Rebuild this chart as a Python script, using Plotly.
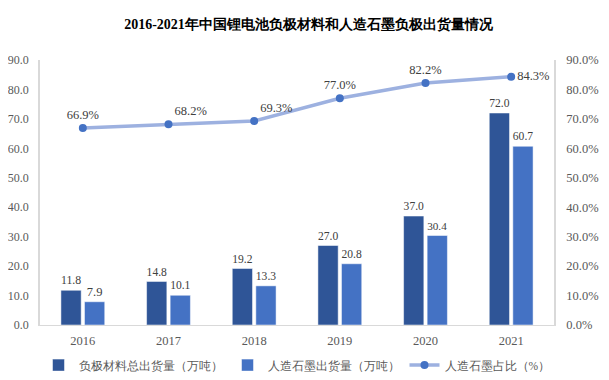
import plotly.graph_objects as go

years = ["2016", "2017", "2018", "2019", "2020", "2021"]
total_anode = [11.8, 14.8, 19.2, 27.0, 37.0, 72.0]
artificial_graphite = [7.9, 10.1, 13.3, 20.8, 30.4, 60.7]
graphite_share = [66.9, 68.2, 69.3, 77.0, 82.2, 84.3]
left_ticks = [0, 10, 20, 30, 40, 50, 60, 70, 80, 90]
right_ticks = [0, 10, 20, 30, 40, 50, 60, 70, 80, 90]

serif = "Liberation Serif"
label_color = "#595959"

fig = go.Figure()
fig.add_trace(go.Bar(
    x=years, y=total_anode, name="负极材料总出货量（万吨）",
    marker=dict(color="#2F5597", line=dict(color="white", width=0.5)),
    text=[f"{v:.1f}" for v in total_anode], textposition="outside",
    textfont=dict(family=serif, size=12.5, color="#404040"), cliponaxis=False,
))
fig.add_trace(go.Bar(
    x=years, y=artificial_graphite, name="人造石墨出货量（万吨）",
    marker=dict(color="#4472C4", line=dict(color="white", width=0.5)),
    text=[f"{v:.1f}" for v in artificial_graphite], textposition="outside",
    textfont=dict(family=serif, size=12.5, color="#404040"), cliponaxis=False,
))
fig.add_trace(go.Scatter(
    x=years, y=graphite_share, name="人造石墨占比（%）", yaxis="y2",
    mode="lines+markers+text",
    line=dict(color="#9DB1E0", width=3.5),
    marker=dict(color="#4472C4", size=8),
    text=[f"{v:.1f}%" for v in graphite_share],
    textposition=["top center", "top right", "top right", "top center", "top center", "middle right"],
    textfont=dict(family=serif, size=12.5, color="#404040"), cliponaxis=False,
))

fig.update_layout(
    width=601, height=372,
    margin=dict(l=32, r=55, t=52, b=55, autoexpand=False),
    paper_bgcolor="white", plot_bgcolor="white",
    title=dict(text="<b>2016-2021年中国锂电池负极材料和人造石墨负极出货量情况</b>",
               x=0.5, xanchor="center", y=0.958, yanchor="middle",
               font=dict(family=serif, size=14, color="black")),
    barmode="group", bargap=0.45, bargroupgap=0.14,
    showlegend=True,
    legend=dict(orientation="h", x=0.5, xanchor="center",
                yref="container", y=0.04, yanchor="middle",
                font=dict(family=serif, size=11.5, color=label_color),
                itemwidth=30, tracegroupgap=0),
    xaxis=dict(showgrid=False, showline=True, linecolor="#D9D9D9", linewidth=1,
               ticks="", ticklabelstandoff=4,
               tickfont=dict(family=serif, size=12.5, color=label_color)),
    yaxis=dict(range=[0, 90], tickvals=left_ticks,
               ticktext=[f"{v:.1f}" for v in left_ticks],
               showgrid=False, showline=True, linecolor="#D9D9D9", linewidth=1.5,
               zeroline=False, ticks="", ticklabelstandoff=7,
               tickfont=dict(family=serif, size=12, color=label_color)),
    yaxis2=dict(range=[0, 90], tickvals=right_ticks,
                ticktext=[f"{v:.1f}%" for v in right_ticks],
                overlaying="y", side="right",
                showgrid=False, showline=True, linecolor="#D9D9D9", linewidth=1.5,
                zeroline=False, ticks="", ticklabelstandoff=8,
                tickfont=dict(family=serif, size=12.5, color=label_color)),
)

fig.write_html("out.html")
